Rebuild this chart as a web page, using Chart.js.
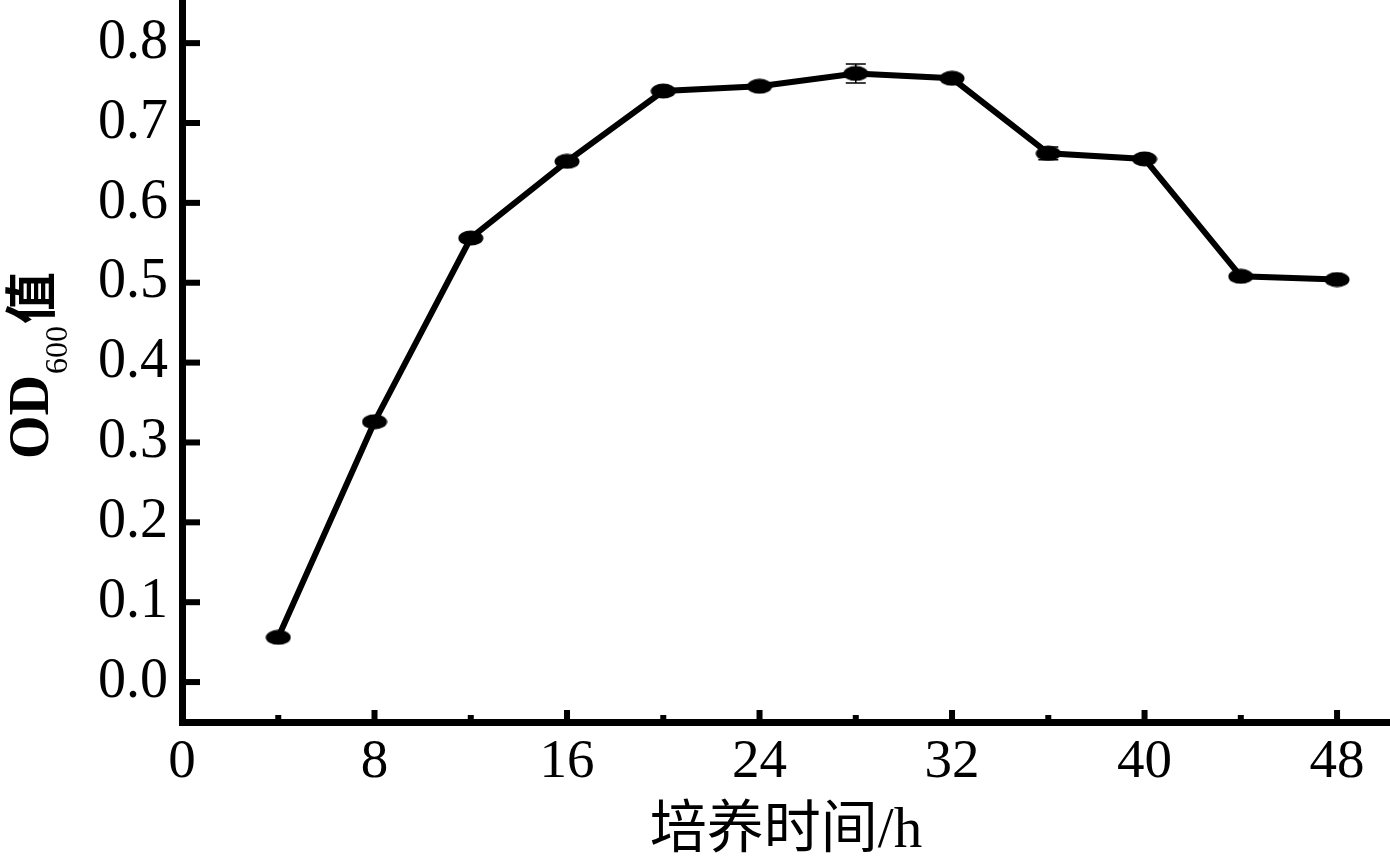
<!DOCTYPE html>
<html>
<head>
<meta charset="utf-8">
<script src="https://cdn.jsdelivr.net/npm/chart.js@4"></script>
<style>
  html, body { margin: 0; padding: 0; background: #fff; }
  #wrap { width: 1390px; height: 857px; }
</style>
</head>
<body>
<div id="wrap"><canvas id="odChart" width="1390" height="857"></canvas></div>
<script>
const hours = [4, 8, 12, 16, 20, 24, 28, 32, 36, 40, 44, 48];
const od600 = [0.056, 0.326, 0.556, 0.652, 0.740, 0.746, 0.762, 0.756, 0.662, 0.655, 0.508, 0.504];
const odError = [0.003, 0.004, 0.004, 0.003, 0.003, 0.003, 0.012, 0.003, 0.008, 0.003, 0.003, 0.003];
const xTicks = [0, 8, 16, 24, 32, 40, 48];
const xMinorTicks = [4, 12, 20, 28, 36, 44];
const yTicks = [0, 0.1, 0.2, 0.3, 0.4, 0.5, 0.6, 0.7, 0.8];

const serif = '"Liberation Serif", "Noto Sans CJK SC", serif';

// ellipse marker
const marker = document.createElement('canvas');
marker.width = 26;
marker.height = 16;
const mctx = marker.getContext('2d');
mctx.fillStyle = '#000';
mctx.beginPath();
mctx.ellipse(13, 8, 12.5, 7.5, 0, 0, Math.PI * 2);
mctx.fill();

const errorBars = {
  id: 'errorBars',
  afterDatasetsDraw(chart) {
    const ctx = chart.ctx;
    const x = chart.scales.x, y = chart.scales.y;
    ctx.save();
    ctx.strokeStyle = '#000';
    ctx.lineWidth = 1.5;
    hours.forEach((h, i) => {
      const px = x.getPixelForValue(h);
      const top = y.getPixelForValue(od600[i] + odError[i]);
      const bot = y.getPixelForValue(od600[i] - odError[i]);
      ctx.beginPath();
      ctx.moveTo(px, top); ctx.lineTo(px, bot);
      ctx.moveTo(px - 10, top); ctx.lineTo(px + 10, top);
      ctx.moveTo(px - 10, bot); ctx.lineTo(px + 10, bot);
      ctx.stroke();
    });
    ctx.restore();
  }
};

// inward tick marks and the y title with subscript
const axisExtras = {
  id: 'axisExtras',
  afterDraw(chart) {
    const ctx = chart.ctx;
    const x = chart.scales.x, y = chart.scales.y;
    const area = chart.chartArea;
    ctx.save();
    ctx.fillStyle = '#000';
    yTicks.forEach(v => {
      const py = y.getPixelForValue(v);
      ctx.fillRect(area.left, py - 3, 18, 6);
    });
    xTicks.forEach(v => {
      const px = x.getPixelForValue(v);
      ctx.fillRect(px - 3, area.bottom - 12, 6, 12);
    });
    xMinorTicks.forEach(v => {
      const px = x.getPixelForValue(v);
      ctx.fillRect(px - 3, area.bottom - 7, 6, 7);
    });

    ctx.translate(48, 459);
    ctx.rotate(-Math.PI / 2);
    ctx.textBaseline = 'alphabetic';
    ctx.textAlign = 'left';
    ctx.font = 'bold 56px "Liberation Serif", serif';
    ctx.fillText('OD', 0, 0);
    let w = ctx.measureText('OD').width;
    ctx.font = '32px "Liberation Serif", serif';
    ctx.fillText('600', w + 1, 19);
    w += ctx.measureText('600').width + 3;
    ctx.font = 'bold 52px "Noto Sans CJK SC", sans-serif';
    ctx.fillText('值', w, 2);
    ctx.restore();
  }
};

new Chart(document.getElementById('odChart').getContext('2d'), {
  type: 'line',
  data: {
    datasets: [{
      data: hours.map((h, i) => ({ x: h, y: od600[i] })),
      borderColor: '#000',
      borderWidth: 6,
      pointStyle: marker,
      pointRadius: 12,
      tension: 0,
      fill: false
    }]
  },
  options: {
    responsive: false,
    animation: false,
    layout: { padding: 0, autoPadding: false },
    plugins: {
      legend: { display: false },
      tooltip: { enabled: false }
    },
    scales: {
      x: {
        type: 'linear',
        min: 0,
        max: 50.2,
        afterBuildTicks: s => { s.ticks = xTicks.map(v => ({ value: v })); },
        afterFit: s => {
          s.height = 135;
          s.paddingLeft = 0;
          s.paddingRight = 0;
        },
        grid: { display: false, drawTicks: false },
        border: { display: true, color: '#000', width: 7 },
        ticks: {
          color: '#000',
          padding: 8,
          maxRotation: 0,
          font: { family: serif, size: 55 }
        },
        title: {
          display: true,
          text: '培养时间/h',
          color: '#000',
          padding: { top: 0, bottom: -9 },
          font: { family: serif, size: 57 }
        }
      },
      y: {
        min: -0.05,
        max: 0.854,
        afterBuildTicks: s => { s.ticks = yTicks.map(v => ({ value: v })); },
        afterFit: s => {
          s.width = 182;
          s.paddingTop = 0;
          s.paddingBottom = 0;
        },
        grid: { display: false, drawTicks: false },
        border: { display: true, color: '#000', width: 7 },
        ticks: {
          color: '#000',
          padding: 14,
          font: { family: serif, size: 56 },
          callback: v => v.toFixed(1)
        }
      }
    }
  },
  plugins: [errorBars, axisExtras]
});
</script>
</body>
</html>
